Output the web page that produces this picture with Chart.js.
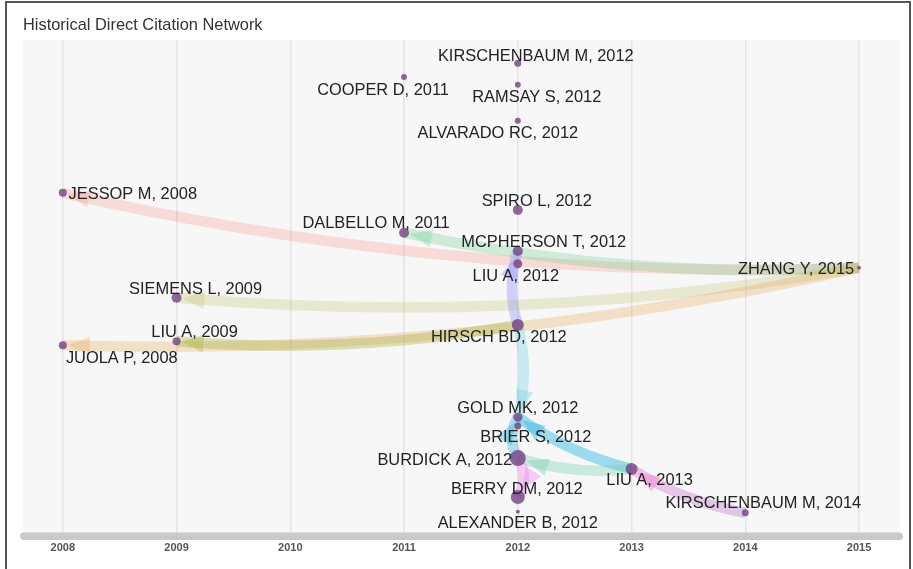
<!DOCTYPE html>
<html>
<head>
<meta charset="utf-8">
<title>Historical Direct Citation Network</title>
<script src="https://cdn.jsdelivr.net/npm/chart.js@4.4.0/dist/chart.umd.min.js"></script>
<style>
  html, body { margin: 0; padding: 0; background: #fff; }
  #wrap { position: relative; width: 913px; height: 569px; overflow: hidden; }
  #frame { position: absolute; left: 5px; top: 1px; width: 902px; height: 620px; border: 2px solid #555; pointer-events: none; }
</style>
</head>
<body>
<div id="wrap">
  <canvas id="histPlot" width="913" height="569"></canvas>
  <div id="frame"></div>
</div>
<script>
// papers (nodes) of the network
var papers = ["KIRSCHENBAUM M, 2012", "COOPER D, 2011", "RAMSAY S, 2012", "ALVARADO RC, 2012",
  "JESSOP M, 2008", "SPIRO L, 2012", "DALBELLO M, 2011", "MCPHERSON T, 2012", "LIU A, 2012",
  "ZHANG Y, 2015", "SIEMENS L, 2009", "HIRSCH BD, 2012", "LIU A, 2009", "JUOLA P, 2008",
  "GOLD MK, 2012", "BRIER S, 2012", "BURDICK A, 2012", "LIU A, 2013", "BERRY DM, 2012",
  "ALEXANDER B, 2012", "KIRSCHENBAUM M, 2014"];
var pubYear = [2012, 2011, 2012, 2012, 2008, 2012, 2011, 2012, 2012, 2015, 2009, 2012, 2009, 2008,
  2012, 2012, 2012, 2013, 2012, 2012, 2014];
// vertical layout position (0 = bottom, 100 = top)
var layoutY = [95.3, 92.5, 90.9, 83.6, 69.0, 65.5, 60.9, 57.2, 54.6, 53.8, 47.7, 42.2, 38.9, 38.1,
  23.5, 21.7, 15.2, 13.0, 7.3, 4.3, 4.1];
var localCitations = [4, 3, 3, 3, 5, 7, 7, 7, 6, 1, 7, 9, 5, 5, 6, 4, 13, 9, 11, 1, 4];

// citation links: citing paper -> cited paper
var citingPaper = ["ZHANG Y, 2015", "ZHANG Y, 2015", "ZHANG Y, 2015", "ZHANG Y, 2015",
  "HIRSCH BD, 2012", "HIRSCH BD, 2012", "HIRSCH BD, 2012", "LIU A, 2013", "BURDICK A, 2012",
  "LIU A, 2013", "KIRSCHENBAUM M, 2014", "BURDICK A, 2012"];
var citedPaper = ["JESSOP M, 2008", "DALBELLO M, 2011", "SIEMENS L, 2009", "JUOLA P, 2008",
  "LIU A, 2009", "MCPHERSON T, 2012", "GOLD MK, 2012", "GOLD MK, 2012", "GOLD MK, 2012",
  "BURDICK A, 2012", "LIU A, 2013", "BERRY DM, 2012"];

var yearTicks = [2008, 2009, 2010, 2011, 2012, 2013, 2014, 2015];

// styles
var edgeColors = ["rgba(250,128,114,0.24)", "rgba(102,204,136,0.28)", "rgba(190,190,100,0.26)",
  "rgba(230,160,80,0.28)", "rgba(160,175,50,0.34)", "rgba(150,150,250,0.4)",
  "rgba(120,210,230,0.38)", "rgba(60,185,225,0.48)", "rgba(60,185,225,0.4)",
  "rgba(110,205,170,0.34)", "rgba(175,130,210,0.4)", "rgba(235,140,235,0.42)"];
var edgeEndColors = edgeColors.slice();
edgeEndColors[10] = "rgba(240,130,210,0.45)";

var labelDx = [18, -21, 19, -20, 70, 19, -28, 26, -2, -63, 19, -19, 18, 59, 0, 18, -73, 18, -1, 0, 18];
var labelDy = [-7, 14, 13, 13, 2, -9, -9, -9, 13, 2, -8, 13, -9, 13, -9, 11, 2, 12, -8, 12, -9];

var nodeRadius = localCitations.map(function (c) { return 1.5 + c * 0.5; });
var nodePoints = papers.map(function (p, i) { return { x: pubYear[i], y: layoutY[i] }; });

var networkPlugin = {
  id: "network",
  beforeDraw: function (chart) {
    var ctx = chart.ctx, a = chart.chartArea;
    ctx.save();
    ctx.fillStyle = "#fff";
    ctx.fillRect(0, 0, chart.width, chart.height);
    ctx.fillStyle = "#f7f7f7";
    ctx.fillRect(a.left, a.top, a.right - a.left, a.bottom - a.top);
    ctx.restore();
  },
  beforeDatasetsDraw: function (chart) {
    var ctx = chart.ctx;
    var xs = chart.scales.x, ys = chart.scales.y;
    function pos(name) {
      var i = papers.indexOf(name);
      return { x: xs.getPixelForValue(pubYear[i]), y: ys.getPixelForValue(layoutY[i]), r: nodeRadius[i] };
    }
    ctx.save();
    for (var e = 0; e < citingPaper.length; e++) {
      var p0 = pos(citingPaper[e]), p2 = pos(citedPaper[e]);
      var dx = p2.x - p0.x, dy = p2.y - p0.y;
      var len = Math.sqrt(dx * dx + dy * dy);
      var off = Math.max(len * 0.065, 12);
      var cx = (p0.x + p2.x) / 2 + off * dy / len;
      var cy = (p0.y + p2.y) / 2 - off * dx / len;
      var col = edgeColors[e];
      if (edgeEndColors[e] !== edgeColors[e]) {
        col = ctx.createLinearGradient(p0.x, p0.y, p2.x, p2.y);
        col.addColorStop(0, edgeColors[e]);
        col.addColorStop(1, edgeEndColors[e]);
      }
      ctx.strokeStyle = col;
      ctx.lineWidth = 10.5;
      ctx.lineCap = "butt";
      ctx.beginPath();
      ctx.moveTo(p0.x, p0.y);
      ctx.quadraticCurveTo(cx, cy, p2.x, p2.y);
      ctx.stroke();
      // arrow head at the cited paper
      var tx = p2.x - cx, ty = p2.y - cy;
      var tl = Math.sqrt(tx * tx + ty * ty);
      tx /= tl; ty /= tl;
      var tipX = p2.x - tx * (p2.r + 1), tipY = p2.y - ty * (p2.r + 1);
      var bx = tipX - tx * 22, by = tipY - ty * 22;
      ctx.fillStyle = edgeEndColors[e];
      ctx.beginPath();
      ctx.moveTo(tipX, tipY);
      ctx.lineTo(bx - ty * 9, by + tx * 9);
      ctx.lineTo(bx + ty * 9, by - tx * 9);
      ctx.closePath();
      ctx.fill();
    }
    ctx.restore();
  },
  afterDatasetsDraw: function (chart) {
    var ctx = chart.ctx;
    var xs = chart.scales.x, ys = chart.scales.y;
    ctx.save();
    ctx.font = "16.4px Arial, 'Liberation Sans', Helvetica, sans-serif";
    ctx.fillStyle = "#222";
    ctx.textAlign = "center";
    ctx.textBaseline = "middle";
    papers.forEach(function (p, i) {
      ctx.fillText(p, xs.getPixelForValue(pubYear[i]) + labelDx[i], ys.getPixelForValue(layoutY[i]) + labelDy[i]);
    });
    ctx.restore();
  },
  afterDraw: function (chart) {
    var ctx = chart.ctx, a = chart.chartArea;
    ctx.save();
    ctx.fillStyle = "#c9c9c9";
    ctx.beginPath();
    ctx.roundRect(a.left - 3, a.bottom - 0.5, a.right - a.left + 6, 7.5, 3.75);
    ctx.fill();
    ctx.restore();
  }
};

document.addEventListener("DOMContentLoaded", function () {
  var ctx = document.getElementById("histPlot").getContext("2d");
  var histChart = new Chart(ctx, {
    type: "scatter",
    data: {
      datasets: [{
        data: nodePoints,
        pointRadius: nodeRadius,
        pointHoverRadius: nodeRadius,
        backgroundColor: "rgba(115,65,130,0.8)",
        borderWidth: 0
      }]
    },
    options: {
      responsive: false,
      animation: false,
      events: [],
      layout: { padding: { left: 23, right: 13, top: 16, bottom: 0 } },
      plugins: {
        legend: { display: false },
        tooltip: { enabled: false },
        title: {
          display: true,
          text: "Historical Direct Citation Network",
          align: "start",
          color: "#333",
          font: { family: "Arial, 'Liberation Sans', Helvetica, sans-serif", size: 16.4, weight: "normal" },
          padding: { top: 0, bottom: 4.3 }
        }
      },
      scales: {
        x: {
          type: "linear",
          min: 2007.65,
          max: 2015.36,
          afterBuildTicks: function (s) { s.ticks = yearTicks.map(function (v) { return { value: v }; }); },
          afterFit: function (s) { s.height = 36; },
          grid: { color: "#e4e4e4", lineWidth: 1.5, drawTicks: false },
          border: { display: false },
          ticks: {
            padding: 8,
            color: "#555",
            font: { family: "Arial, 'Liberation Sans', Helvetica, sans-serif", size: 11, weight: "bold" },
            callback: function (v) { return String(v); }
          }
        },
        y: { display: false, min: 0, max: 100 }
      }
    },
    plugins: [networkPlugin]
  });
});
</script>
</body>
</html>
